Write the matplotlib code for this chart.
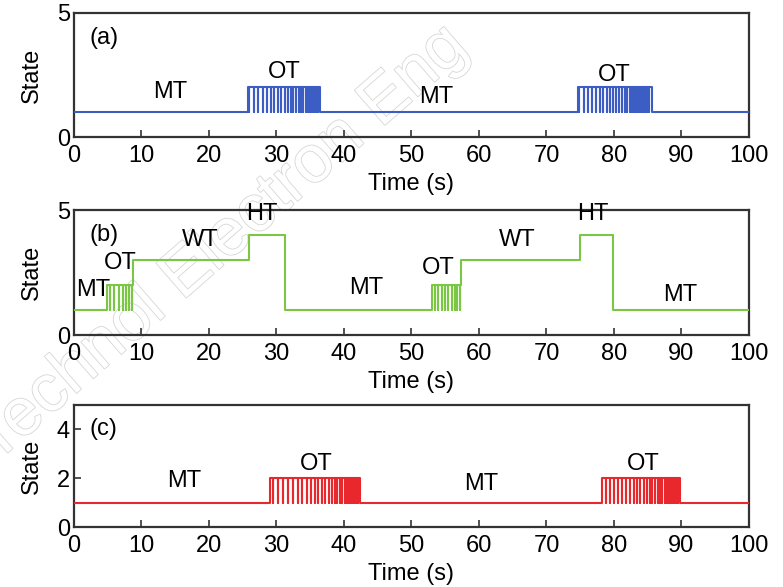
import matplotlib
matplotlib.use("Agg")
import matplotlib.pyplot as plt
import matplotlib.patheffects as pe

plt.rcParams['font.family'] = ['Liberation Sans', 'DejaVu Sans']
plt.rcParams['font.size'] = 17

# level changes: (time, state) -- state held until next change
levels_a = [(0, 1), (25.8, 2), (36.4, 1), (74.6, 2), (85.6, 1), (100, 1)]
levels_b = [(0, 1), (4.9, 2), (8.8, 3), (26.0, 4), (31.3, 1), (53.0, 2), (57.4, 3),
            (75.0, 4), (79.8, 1), (100, 1)]
levels_c = [(0, 1), (29.0, 2), (42.4, 1), (78.3, 2), (89.8, 1), (100, 1)]

# moments where the state drops briefly from OT (2) back to MT (1)
drops_a = [25.98, 26.67, 27.31, 27.95, 28.54, 29.14, 29.68, 30.22, 30.72, 31.21,
           31.65, 32.10, 32.49, 32.89, 33.28, 33.63, 33.98, 34.32, 34.62, 34.91,
           35.21, 35.46, 35.70, 35.95, 36.20,
           74.86, 75.51, 76.15, 76.74, 77.33, 77.88, 78.42, 78.91, 79.41, 79.90,
           80.35, 80.79, 81.19, 81.58, 81.98, 82.32, 82.67, 83.01, 83.31, 83.60,
           83.90, 84.20, 84.44, 84.69, 84.94, 85.19]
drops_b = [5.33, 5.98, 6.62, 7.21, 7.70, 8.20, 8.59,
           53.48, 53.98, 54.47, 54.96, 55.46, 55.95, 56.44, 56.79, 57.19]
drops_c = [29.53, 30.27, 31.01, 31.75, 32.49, 33.19, 33.83, 34.47, 35.06, 35.65,
           36.20, 36.74, 37.23, 37.73, 38.17, 38.62, 39.01, 39.41, 39.75, 40.10,
           40.44, 40.74, 41.04, 41.28, 41.53, 41.78, 42.03,
           78.77, 79.41, 80.05, 80.64, 81.23, 81.83, 82.37, 82.91, 83.41, 83.90,
           84.40, 84.84, 85.28, 85.68, 86.07, 86.47, 86.81, 87.16, 87.51, 87.80,
           88.10, 88.40, 88.69, 88.94, 89.19, 89.43]

labels_a = [("MT", 14.2, 1.8), ("OT", 31.1, 2.6), ("MT", 53.6, 1.6), ("OT", 80.1, 2.5)]
labels_b = [("MT", 2.8, 1.8), ("OT", 6.8, 2.9), ("WT", 18.7, 3.8), ("HT", 27.9, 4.85),
            ("MT", 43.3, 1.9), ("OT", 53.9, 2.7), ("WT", 65.6, 3.8), ("HT", 76.9, 4.85),
            ("MT", 89.8, 1.6)]
labels_c = [("MT", 16.4, 1.9), ("OT", 35.9, 2.6), ("MT", 60.3, 1.75), ("OT", 84.3, 2.6)]

xticks = list(range(0, 101, 10))


def build_trace(levels, drops):
    pts = []
    for (t0, s0), (t1, _) in zip(levels[:-1], levels[1:]):
        pts += [(t0, s0), (t1, s0)]
    # drops are zero-width spikes from 2 down to 1
    for d in drops:
        pts += [(d, 2), (d, 1), (d, 2)]
    order = sorted(range(len(pts)), key=lambda i: (pts[i][0], i))
    return [pts[i][0] for i in order], [pts[i][1] for i in order]


def style_axis(ax, yticks, show_yticks):
    ax.set_xlim(0, 100)
    ax.set_ylim(0, 5)
    ax.set_xticks(xticks)
    ax.set_yticks(yticks)
    ax.patch.set_alpha(0)
    for s in ax.spines.values():
        s.set_linewidth(1.6)
        s.set_color('#333333')
    ax.tick_params(direction='in', length=5 if show_yticks else 0, width=1.2,
                   color='#333333', labelsize=17, pad=3)
    ax.tick_params(axis='x', length=5, pad=6)
    ax.set_xlabel('Time (s)', fontsize=17, labelpad=4)
    ax.set_ylabel('State', fontsize=17, labelpad=10)


fig = plt.figure(figsize=(7.83, 5.87), dpi=100)
ax_a = fig.add_axes([0.0945, 0.7666, 0.862, 0.2114])
ax_b = fig.add_axes([0.0945, 0.4293, 0.862, 0.2129])
ax_c = fig.add_axes([0.0945, 0.1022, 0.862, 0.2078])

panels = [
    (ax_a, levels_a, drops_a, labels_a, '#3c5ec4', '(a)', [0, 5], False),
    (ax_b, levels_b, drops_b, labels_b, '#7cc646', '(b)', [0, 5], False),
    (ax_c, levels_c, drops_c, labels_c, '#e8282c', '(c)', [0, 2, 4], True),
]

for ax, levels, drops, labels, color, tag, yt, show_yt in panels:
    t, y = build_trace(levels, drops)
    ax.plot(t, y, color=color, linewidth=1.5, zorder=3)
    style_axis(ax, yt, show_yt)
    ax.text(2.3, 4.0, tag, fontsize=17, va='center', ha='left', zorder=4)
    for name, x, yy in labels:
        ax.text(x, yy, name, fontsize=17, ha='center', va='center', zorder=4)

# faint watermark behind everything
fig.text(0.56, 0.975, 'Front Inform Technol Electron Eng', fontsize=48, color='white',
         rotation=41, rotation_mode='anchor', ha='right', va='top',
         path_effects=[pe.withStroke(linewidth=1.2, foreground='#d6d6d6')], zorder=-1)

fig.savefig('out.png', dpi=100)
